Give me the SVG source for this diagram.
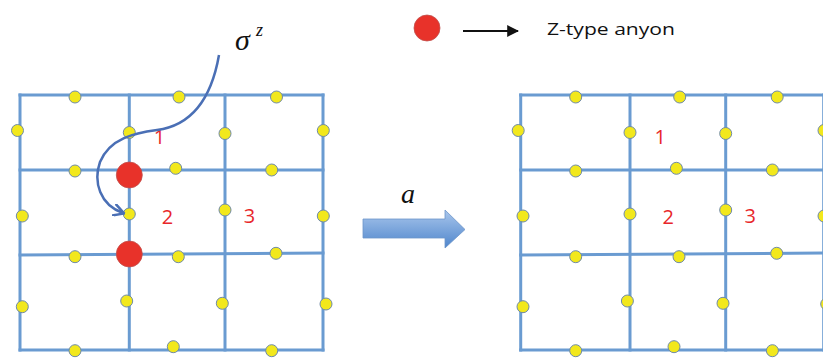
<svg xmlns="http://www.w3.org/2000/svg" width="823" height="358" viewBox="0 0 823 358">
<defs>
<style>
.grid line{stroke:#6a9bd1;stroke-width:3;stroke-linecap:square}
.q{fill:#f2e81c;stroke:#6f8aa8;stroke-width:1}
.z{fill:#e8322a;stroke:#c0504d;stroke-width:0.8}
.lbl{font-family:"Open Sans","Liberation Sans",sans-serif;font-size:20px;fill:#e8262a;text-anchor:middle}
.math{font-family:"Liberation Serif",serif;font-style:italic;fill:#111}
</style>
<linearGradient id="bg" x1="0" y1="0" x2="0" y2="1">
<stop offset="0" stop-color="#a9c6ec"/>
<stop offset="1" stop-color="#4f86cc"/>
</linearGradient>
<marker id="ah" viewBox="0 0 10 10" refX="9" refY="5" markerWidth="6" markerHeight="6" orient="auto">
<path d="M0,0 L10,5 L0,10 z" fill="#111"/>
</marker>
<marker id="oh" viewBox="0 0 10 10" refX="8" refY="5" markerWidth="5" markerHeight="5" orient="auto">
<path d="M0,0 L9,5 L0,10" fill="none" stroke="#4a6fb5" stroke-width="2"/>
</marker>
<g id="lattice">
<g class="grid">
<line x1="20" y1="95" x2="323" y2="95"/>
<line x1="20" y1="170" x2="323" y2="170"/>
<line x1="20" y1="255" x2="323" y2="253"/>
<line x1="20" y1="350" x2="323" y2="350"/>
<line x1="20" y1="95" x2="20" y2="350"/>
<line x1="129.3" y1="95" x2="129.3" y2="350"/>
<line x1="225" y1="95" x2="225" y2="350"/>
<line x1="323" y1="95" x2="323" y2="350"/>
</g>
<circle class="q" cx="75" cy="97" r="6"/>
<circle class="q" cx="179" cy="97" r="6"/>
<circle class="q" cx="276.5" cy="97" r="6"/>
<circle class="q" cx="17.5" cy="130.5" r="6"/>
<circle class="q" cx="129.3" cy="132.5" r="6"/>
<circle class="q" cx="225" cy="133.5" r="6"/>
<circle class="q" cx="323.3" cy="130.5" r="6"/>
<circle class="q" cx="75" cy="171" r="6"/>
<circle class="q" cx="175.7" cy="168.3" r="6"/>
<circle class="q" cx="271.7" cy="170" r="6"/>
<circle class="q" cx="22.3" cy="216" r="6"/>
<circle class="q" cx="129.3" cy="214" r="6"/>
<circle class="q" cx="225" cy="210" r="6"/>
<circle class="q" cx="323.3" cy="216" r="6"/>
<circle class="q" cx="75" cy="256.7" r="6"/>
<circle class="q" cx="178.3" cy="256.7" r="6"/>
<circle class="q" cx="276" cy="253.3" r="6"/>
<circle class="q" cx="22.3" cy="306.7" r="6"/>
<circle class="q" cx="126.7" cy="301" r="6"/>
<circle class="q" cx="222.3" cy="303.3" r="6"/>
<circle class="q" cx="326" cy="304" r="6"/>
<circle class="q" cx="75" cy="350.7" r="6"/>
<circle class="q" cx="173.3" cy="346.7" r="6"/>
<circle class="q" cx="271.7" cy="350.7" r="6"/>
<text class="lbl" x="159.5" y="144">1</text>
<text class="lbl" x="167.5" y="224">2</text>
<text class="lbl" x="249.5" y="223">3</text>
</g>
</defs>

<g id="left-lattice">
<use href="#lattice"/>
</g>

<g id="anyon-1"><circle class="z" cx="129.3" cy="175" r="13"/></g>
<g id="anyon-2"><circle class="z" cx="129.3" cy="254" r="13"/></g>

<g id="right-lattice">
<use href="#lattice" transform="translate(500.7,0)"/>
</g>

<g id="sigma-label">
<text class="math" x="235" y="50" font-size="30">σ</text>
<text class="math" x="256" y="36" font-size="18">z</text>
</g>

<g id="a-label">
<text class="math" x="401" y="203" font-size="28">a</text>
</g>

<g id="legend">
<circle class="z" cx="427" cy="28" r="13"/>
<text x="547" y="35" font-family="'Open Sans','Liberation Sans',sans-serif" font-size="17" fill="#111" textLength="128" lengthAdjust="spacingAndGlyphs">Z-type anyon</text>
</g>

<g id="connectors">
<path d="M219,55 C212,95 195,125 157,130 C135,133 110,138 100,162 C93,182 100,205 123,213" fill="none" stroke="#4a6fb5" stroke-width="2.5" marker-end="url(#oh)"/>
<path d="M363,219 L445,219 L445,210 L465,229.5 L445,248 L445,238 L363,238 Z" fill="url(#bg)" stroke="#6d95c9" stroke-width="0.8"/>
<line x1="463" y1="31" x2="518" y2="31" stroke="#111" stroke-width="2" marker-end="url(#ah)"/>
</g>
</svg>
